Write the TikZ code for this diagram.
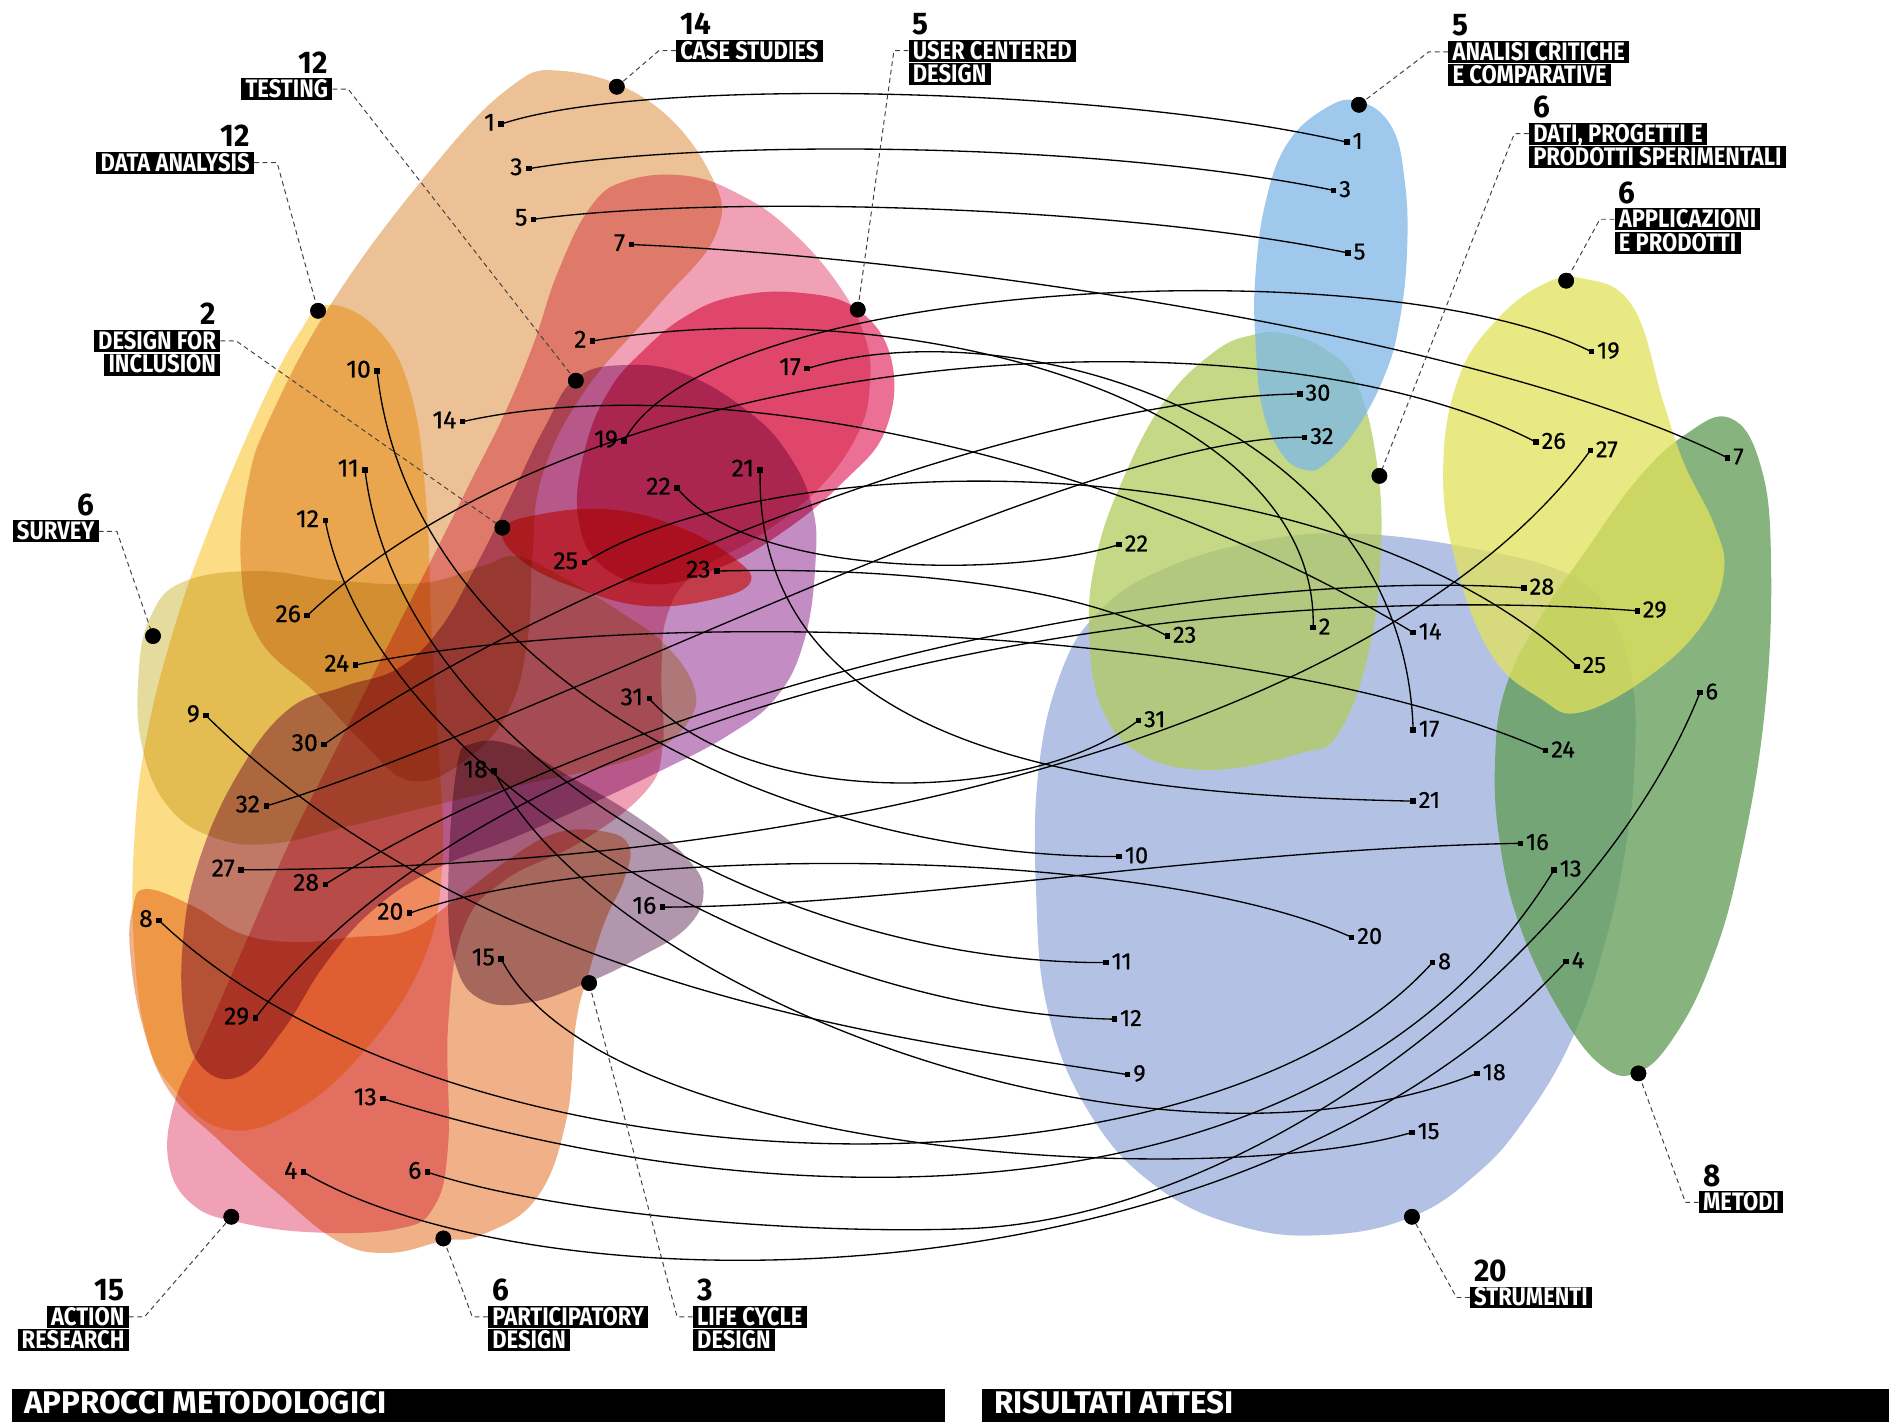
\documentclass[tikz,border=0pt]{standalone}
\usepackage{fontspec}
\setmainfont{Fira Sans}
\newfontfamily\lblfont[FakeStretch=0.87]{Fira Sans}
\newfontfamily\bigfont[FakeStretch=0.95]{Fira Sans}
\newfontfamily\numfont[FakeBold=0.6]{Fira Sans}
\newfontfamily\barfont[FakeStretch=1.0]{Fira Sans}
\definecolor{cTan}{RGB}{236,193,150}
\definecolor{cYel}{RGB}{253,220,134}
\definecolor{cOli}{RGB}{229,219,157}
\definecolor{cPink}{RGB}{241,161,181}
\definecolor{cMag}{RGB}{236,111,150}
\definecolor{cPur}{RGB}{195,140,195}
\definecolor{cRed}{RGB}{255,110,100}
\definecolor{cMau}{RGB}{177,150,173}
\definecolor{cPea}{RGB}{240,176,136}
\definecolor{cPer}{RGB}{154,174,220}
\definecolor{cGrn}{RGB}{96,156,83}
\definecolor{cLim}{RGB}{226,226,90}
\definecolor{cLgr}{RGB}{178,203,94}
\definecolor{cBlu}{RGB}{126,184,232}
\begin{document}
\begin{tikzpicture}[x=1pt,y=-1pt,
 blobL/.style={fill=#1, blend mode=multiply, draw=none},
 blobR/.style={fill=#1, fill opacity=0.75, draw=none},
 conn/.style={line width=1.1pt, black},
 sq/.style={fill=black, rectangle, minimum size=4.5pt, inner sep=0pt, outer sep=0pt},
 dotn/.style={fill=black, circle, minimum size=13pt, inner sep=0pt},
 lnum/.style={font=\numfont\fontsize{20.5}{20.5}\selectfont, inner sep=0pt},
 rnum/.style={font=\numfont\fontsize{19.5}{19.5}\selectfont, inner sep=0pt},
 lbl/.style={fill=black, text=white, font=\lblfont\bfseries\fontsize{21}{21}\selectfont, inner xsep=3.5pt, inner ysep=0.6pt, text height=15.5pt, text depth=1.5pt},
 bignum/.style={font=\bigfont\bfseries\fontsize{26}{26}\selectfont, inner sep=0pt},
 lead/.style={dash pattern=on 4pt off 3pt, line width=0.8pt, black!75},
 barlbl/.style={font=\barfont\bfseries\fontsize{26}{26}\selectfont, text=white, inner sep=0pt}
]
\useasboundingbox (0,0) rectangle (1568,1180);
\fill[white] (0,0) rectangle (1568,1180);

% ---------- left blobs (multiply) ----------
\fill[blobL=cTan] plot[smooth cycle,tension=0.7] coordinates {(468,59) (540,85) (590,145) (594,195) (545,255) (485,325) (450,395) (442,460) (438,530) (422,590) (385,632) (340,648) (300,615) (262,575) (215,530) (200,470) (206,400) (225,345) (275,252) (350,150) (420,75)};
\fill[blobL=cYel] plot[smooth cycle,tension=0.7] coordinates {(272,253) (315,275) (342,330) (354,420) (358,520) (364,620) (367,720) (350,800) (300,875) (240,925) (186,937) (145,905) (122,862) (111,780) (112,690) (122,610) (145,520) (175,435) (215,340) (248,277)};
\fill[blobL=cOli] plot[smooth cycle,tension=0.7] coordinates {(152,483) (214,474) (280,482) (350,484) (400,470) (430,462) (472,482) (515,508) (552,535) (576,570) (572,598) (545,622) (500,637) (430,652) (358,669) (289,686) (228,700) (180,696) (140,670) (118,620) (115,560) (125,512)};
\fill[blobL=cPink] plot[smooth cycle,tension=0.7] coordinates {(520,150) (570,146) (615,162) (655,190) (695,235) (718,280) (722,320) (712,360) (680,405) (630,445) (578,475) (554,510) (549,560) (550,620) (535,658) (480,700) (420,730) (385,770) (372,850) (372,950) (360,1002) (330,1020) (262,1023) (200,1015) (160,1000) (140,965) (145,915) (170,860) (205,780) (240,700) (270,640) (300,580) (330,520) (361,459) (390,401) (419,343) (443,285) (463,226) (490,172)};
\fill[blobL=cMag] plot[smooth cycle,tension=0.7] coordinates {(610,246) (664,243) (712,257) (740,299) (735,357) (700,400) (652,440) (600,470) (545,485) (500,470) (480,430) (485,375) (505,325) (535,290) (570,262)};
\fill[blobL=cPur] plot[smooth cycle,tension=0.7] coordinates {(478,314) (520,303) (570,311) (623,343) (655,378) (674,420) (677,465) (668,530) (645,578) (605,610) (548,640) (480,672) (420,698) (360,722) (310,755) (270,800) (235,855) (200,893) (168,886) (153,845) (152,780) (165,715) (196,645) (238,590) (285,570) (330,555) (365,522) (395,470) (425,410) (452,355)};
\fill[blobL=cRed] plot[smooth cycle,tension=0.7] coordinates {(417,440) (448,427) (507,423) (565,438) (609,463) (623,483) (594,497) (536,503) (478,488) (434,466)};
\fill[blobL=cMau] plot[smooth cycle,tension=0.7] coordinates {(379,638) (393,617) (427,619) (470,643) (530,679) (570,712) (584,740) (570,770) (530,795) (489,815) (440,832) (400,830) (378,800) (372,740)};
\fill[blobL=cPea] plot[smooth cycle,tension=0.7] coordinates {(121,738) (160,752) (200,775) (245,782) (292,778) (340,772) (380,745) (420,715) (460,692) (500,690) (522,702) (518,730) (502,765) (488,810) (478,850) (470,930) (445,995) (400,1025) (368,1030) (322,1040) (280,1030) (230,990) (180,945) (140,905) (118,850) (108,790) (110,755)};

% ---------- right blobs ----------
\fill[blobR=cPer] plot[smooth cycle,tension=0.7] coordinates {(1126,443) (1232,457) (1304,478) (1338,512) (1355,567) (1357,631) (1350,700) (1333,780) (1305,862) (1265,930) (1225,975) (1172,1010) (1102,1025) (1030,1018) (960,985) (905,925) (870,840) (860,740) (862,640) (880,560) (910,510) (960,475) (1040,450)};
\fill[blobR=cGrn] plot[smooth cycle,tension=0.7] coordinates {(1436,347) (1461,385) (1470,462) (1465,589) (1444,716) (1420,800) (1390,860) (1360,890) (1330,885) (1295,840) (1262,770) (1245,700) (1241,631) (1250,570) (1280,510) (1313,462) (1359,398) (1400,360)};
\fill[blobR=cLim] plot[smooth cycle,tension=0.7] coordinates {(1313,231) (1355,254) (1381,335) (1398,385) (1423,436) (1431,474) (1414,517) (1372,559) (1313,591) (1279,580) (1237,542) (1207,462) (1198,385) (1211,313) (1241,267) (1279,237)};
\fill[blobR=cLgr] plot[smooth cycle,tension=0.7] coordinates {(1067,277) (1100,290) (1126,318) (1143,385) (1146,462) (1135,546) (1110,610) (1080,625) (1008,639) (949,627) (915,589) (904,525) (910,462) (932,398) (966,334) (1008,292) (1040,278)};
\fill[blobR=cBlu] plot[smooth cycle,tension=0.7] coordinates {(1128,84) (1155,105) (1166,150) (1168,207) (1162,265) (1150,310) (1126,356) (1100,385) (1084,390) (1065,378) (1048,340) (1042,280) (1042,230) (1050,170) (1068,120) (1100,90)};

% ---------- end points ----------
\foreach \n/\x/\y in {1/416/103, 3/439/140, 5/443/182, 7/524/203, 2/492/283, 17/670/306, 14/384/350, 19/518/366, 22/562/405, 21/631/390, 25/485/467, 23/595/474, 10/313/308, 11/303/390, 12/270/432, 26/255/511, 24/295/552, 31/539/580, 9/171/594, 30/269/618, 32/221/669, 18/410/640, 27/200/722, 28/270/734, 20/340/758, 16/550/753, 8/132/764, 15/416/796, 29/212/845, 13/318/912, 4/252/973, 6/355/973}
  {\coordinate (L\n) at (\x,\y);}
\foreach \n/\x/\y in {1/1118/118, 3/1107/158, 5/1119/210, 19/1321/292, 30/1079/327, 32/1083/363, 26/1275/367, 27/1320/374, 7/1434/380, 22/929/452, 28/1265/488, 29/1359/507, 23/969/528, 2/1090/521, 14/1173/525, 25/1309/553, 6/1411/575, 31/945/598, 17/1173/606, 24/1283/623, 21/1173/665, 16/1262/700, 13/1290/722, 10/929/711, 20/1122/778, 11/918/799, 8/1189/799, 4/1300/798, 12/925/846, 9/936/892, 18/1226/891, 15/1172/940}
  {\coordinate (R\n) at (\x,\y);}

% ---------- connectors ----------
\draw[conn] (L1) .. controls (535,63) and (918,72) .. (R1);
\draw[conn] (L3) .. controls (587,115) and (907,117) .. (R3);
\draw[conn] (L5) .. controls (592,162) and (919,169) .. (R5);
\draw[conn] (L7) .. controls (773,213) and (1232,279) .. (R7);
\draw[conn] (L2) .. controls (750,240) and (1095,330) .. (R2);
\draw[conn] (L17) .. controls (830,255) and (1165,340) .. (R17);
\draw[conn] (L14) .. controls (583,305) and (924,374) .. (R14);
\draw[conn] (L19) .. controls (590,230) and (1150,205) .. (R19);
\draw[conn] (L22) .. controls (622,480) and (840,480) .. (R22);
\draw[conn] (L21) .. controls (625,640) and (950,660) .. (R21);
\draw[conn] (L25) .. controls (640,370) and (1100,360) .. (R25);
\draw[conn] (L23) .. controls (760,470) and (900,490) .. (R23);
\draw[conn] (L10) .. controls (340,560) and (650,712) .. (R10);
\draw[conn] (L11) .. controls (330,620) and (640,800) .. (R11);
\draw[conn] (L12) .. controls (310,640) and (650,840) .. (R12);
\draw[conn] (L26) .. controls (500,280) and (1050,250) .. (R26);
\draw[conn] (L24) .. controls (550,500) and (1050,520) .. (R24);
\draw[conn] (L31) .. controls (620,670) and (850,670) .. (R31);
\draw[conn] (L9) .. controls (400,820) and (737,861) .. (R9);
\draw[conn] (L30) .. controls (450,490) and (850,330) .. (R30);
\draw[conn] (L32) .. controls (450,600) and (900,360) .. (R32);
\draw[conn] (L18) .. controls (500,820) and (950,1000) .. (R18);
\draw[conn] (L27) .. controls (750,720) and (1170,580) .. (R27);
\draw[conn] (L28) .. controls (550,560) and (1000,470) .. (R28);
\draw[conn] (L20) .. controls (500,700) and (950,700) .. (R20);
\draw[conn] (L16) .. controls (750,752) and (1000,705) .. (R16);
\draw[conn] (L8) .. controls (380,1000) and (1000,1010) .. (R8);
\draw[conn] (L15) .. controls (500,960) and (1000,990) .. (R15);
\draw[conn] (L29) .. controls (430,560) and (1000,480) .. (R29);
\draw[conn] (L13) .. controls (700,1030) and (1120,1000) .. (R13);
\draw[conn] (L4) .. controls (450,1090) and (1030,1090) .. (R4);
\draw[conn] (L6) .. controls (450,1005) and (650,1025) .. (800,1020) .. controls (1050,1012) and (1330,780) .. (R6);

% ---------- squares and numbers ----------
\foreach \n/\x/\y in {1/416/103, 3/439/140, 5/443/182, 7/524/203, 2/492/283, 17/670/306, 14/384/350, 19/518/366, 22/562/405, 21/631/390, 25/485/467, 23/595/474, 10/313/308, 11/303/390, 12/270/432, 26/255/511, 24/295/552, 31/539/580, 9/171/594, 30/269/618, 32/221/669, 18/410/640, 27/200/722, 28/270/734, 20/340/758, 16/550/753, 8/132/764, 15/416/796, 29/212/845, 13/318/912, 4/252/973, 6/355/973}
  {\node[sq] (sL\n) at (L\n) {};
   \node[lnum, anchor=east] (tL\n) at (\x-5,\y-1.5) {\n};}
\foreach \n/\x/\y in {1/1118/118, 3/1107/158, 5/1119/210, 19/1321/292, 30/1079/327, 32/1083/363, 26/1275/367, 27/1320/374, 7/1434/380, 22/929/452, 28/1265/488, 29/1359/507, 23/969/528, 2/1090/521, 14/1173/525, 25/1309/553, 6/1411/575, 31/945/598, 17/1173/606, 24/1283/623, 21/1173/665, 16/1262/700, 13/1290/722, 10/929/711, 20/1122/778, 11/918/799, 8/1189/799, 4/1300/798, 12/925/846, 9/936/892, 18/1226/891, 15/1172/940}
  {\node[sq] (sR\n) at (R\n) {};
   \node[rnum, anchor=west] (tR\n) at (\x+4.5,\y-1) {\n};}

% ---------- category dots ----------
\node[dotn] (dCS) at (512,72) {};
\node[dotn] (dTE) at (478,316) {};
\node[dotn] (dDA) at (264,258) {};
\node[dotn] (dDI) at (417,438) {};
\node[dotn] (dSU) at (127,528) {};
\node[dotn] (dUC) at (712,257) {};
\node[dotn] (dAR) at (192,1010) {};
\node[dotn] (dPD) at (368,1028) {};
\node[dotn] (dLC) at (489,816) {};
\node[dotn] (dAC) at (1128,87) {};
\node[dotn] (dDP) at (1145,395) {};
\node[dotn] (dAP) at (1300,233) {};
\node[dotn] (dME) at (1360,891) {};
\node[dotn] (dST) at (1172,1010) {};

% ---------- labels (left-aligned) ----------
\node[lbl, anchor=west] (bCS) at (561,42) {CASE STUDIES};
\node[bignum, anchor=base west] (nCS) at ([xshift=3.5pt,yshift=4pt]bCS.north west) {14};
\node[lbl, anchor=west] (bUC) at (754,42) {USER CENTERED};
\node[lbl, anchor=north west] (bUC2) at ([yshift=-1pt]bUC.south west) {DESIGN};
\node[bignum, anchor=base west] (nUC) at ([xshift=3.5pt,yshift=4pt]bUC.north west) {5};
\node[lbl, anchor=west] (bAC) at (1202,43) {ANALISI CRITICHE};
\node[lbl, anchor=north west] (bAC2) at ([yshift=-1pt]bAC.south west) {E COMPARATIVE};
\node[bignum, anchor=base west] (nAC) at ([xshift=3.5pt,yshift=4pt]bAC.north west) {5};
\node[lbl, anchor=west] (bDP) at (1269,111) {DATI, PROGETTI E};
\node[lbl, anchor=north west] (bDP2) at ([yshift=-1pt]bDP.south west) {PRODOTTI SPERIMENTALI};
\node[bignum, anchor=base west] (nDP) at ([xshift=3.5pt,yshift=4pt]bDP.north west) {6};
\node[lbl, anchor=west] (bAP) at (1340,182) {APPLICAZIONI};
\node[lbl, anchor=north west] (bAP2) at ([yshift=-1pt]bAP.south west) {E PRODOTTI};
\node[bignum, anchor=base west] (nAP) at ([xshift=3.5pt,yshift=4pt]bAP.north west) {6};
\node[lbl, anchor=west] (bME) at (1410,998) {METODI};
\node[bignum, anchor=base west] (nME) at ([xshift=3.5pt,yshift=4pt]bME.north west) {8};
\node[lbl, anchor=west] (bST) at (1220,1077) {STRUMENTI};
\node[bignum, anchor=base west] (nST) at ([xshift=3.5pt,yshift=4pt]bST.north west) {20};
\node[lbl, anchor=west] (bPD) at (405,1093) {PARTICIPATORY};
\node[lbl, anchor=north west] (bPD2) at ([yshift=-1pt]bPD.south west) {DESIGN};
\node[bignum, anchor=base west] (nPD) at ([xshift=3.5pt,yshift=4pt]bPD.north west) {6};
\node[lbl, anchor=west] (bLC) at (575,1093) {LIFE CYCLE};
\node[lbl, anchor=north west] (bLC2) at ([yshift=-1pt]bLC.south west) {DESIGN};
\node[bignum, anchor=base west] (nLC) at ([xshift=3.5pt,yshift=4pt]bLC.north west) {3};

% ---------- labels (right-aligned) ----------
\node[lbl, anchor=east] (bTE) at (276,74) {TESTING};
\node[bignum, anchor=base east] (nTE) at ([xshift=-3.5pt,yshift=4pt]bTE.north east) {12};
\node[lbl, anchor=east] (bDA) at (211,135) {DATA ANALYSIS};
\node[bignum, anchor=base east] (nDA) at ([xshift=-3.5pt,yshift=4pt]bDA.north east) {12};
\node[lbl, anchor=east] (bDI) at (183,283) {DESIGN FOR};
\node[lbl, anchor=north east] (bDI2) at ([yshift=-1pt]bDI.south east) {INCLUSION};
\node[bignum, anchor=base east] (nDI) at ([xshift=-3.5pt,yshift=4pt]bDI.north east) {2};
\node[lbl, anchor=east] (bSU) at (82,441) {SURVEY};
\node[bignum, anchor=base east] (nSU) at ([xshift=-3.5pt,yshift=4pt]bSU.north east) {6};
\node[lbl, anchor=east] (bAR) at (107,1093) {ACTION};
\node[lbl, anchor=north east] (bAR2) at ([yshift=-1pt]bAR.south east) {RESEARCH};
\node[bignum, anchor=base east] (nAR) at ([xshift=-3.5pt,yshift=4pt]bAR.north east) {15};

% ---------- leaders ----------
\draw[lead] (bCS.west) -- ++(-14,0) -- (dCS.center);
\draw[lead] (bUC.west) -- ++(-12,0) -- (dUC.center);
\draw[lead] (bAC.west) -- ++(-16,0) -- (dAC.center);
\draw[lead] (bDP.west) -- ++(-12,0) -- (dDP.center);
\draw[lead] (bAP.west) -- ++(-12,0) -- (dAP.center);
\draw[lead] (bME.west) -- ++(-11,0) -- (dME.center);
\draw[lead] (bST.west) -- ++(-11,0) -- (dST.center);
\draw[lead] (bPD.west) -- ++(-13,0) -- (dPD.center);
\draw[lead] (bLC.west) -- ++(-13,0) -- (dLC.center);
\draw[lead] (bTE.east) -- ++(13,0) -- (dTE.center);
\draw[lead] (bDA.east) -- ++(19,0) -- (dDA.center);
\draw[lead] (bDI.east) -- ++(13,0) -- (dDI.center);
\draw[lead] (bSU.east) -- ++(15,0) -- (dSU.center);
\draw[lead] (bAR.east) -- ++(13,0) -- (dAR.center);
\foreach \d in {dCS,dTE,dDA,dDI,dSU,dUC,dAR,dPD,dLC,dAC,dDP,dAP,dME,dST}
  {\fill (\d.center) circle (6.5pt);}

% ---------- bottom bars ----------
\fill[black] (10,1153) rectangle (784,1190);
\fill[black] (815,1153) rectangle (1580,1190);
\node[barlbl, anchor=base west] (barL) at (20,1173) {APPROCCI METODOLOGICI};
\node[barlbl, anchor=base west] (barR) at (825,1173) {RISULTATI ATTESI};
\end{tikzpicture}
\end{document}
